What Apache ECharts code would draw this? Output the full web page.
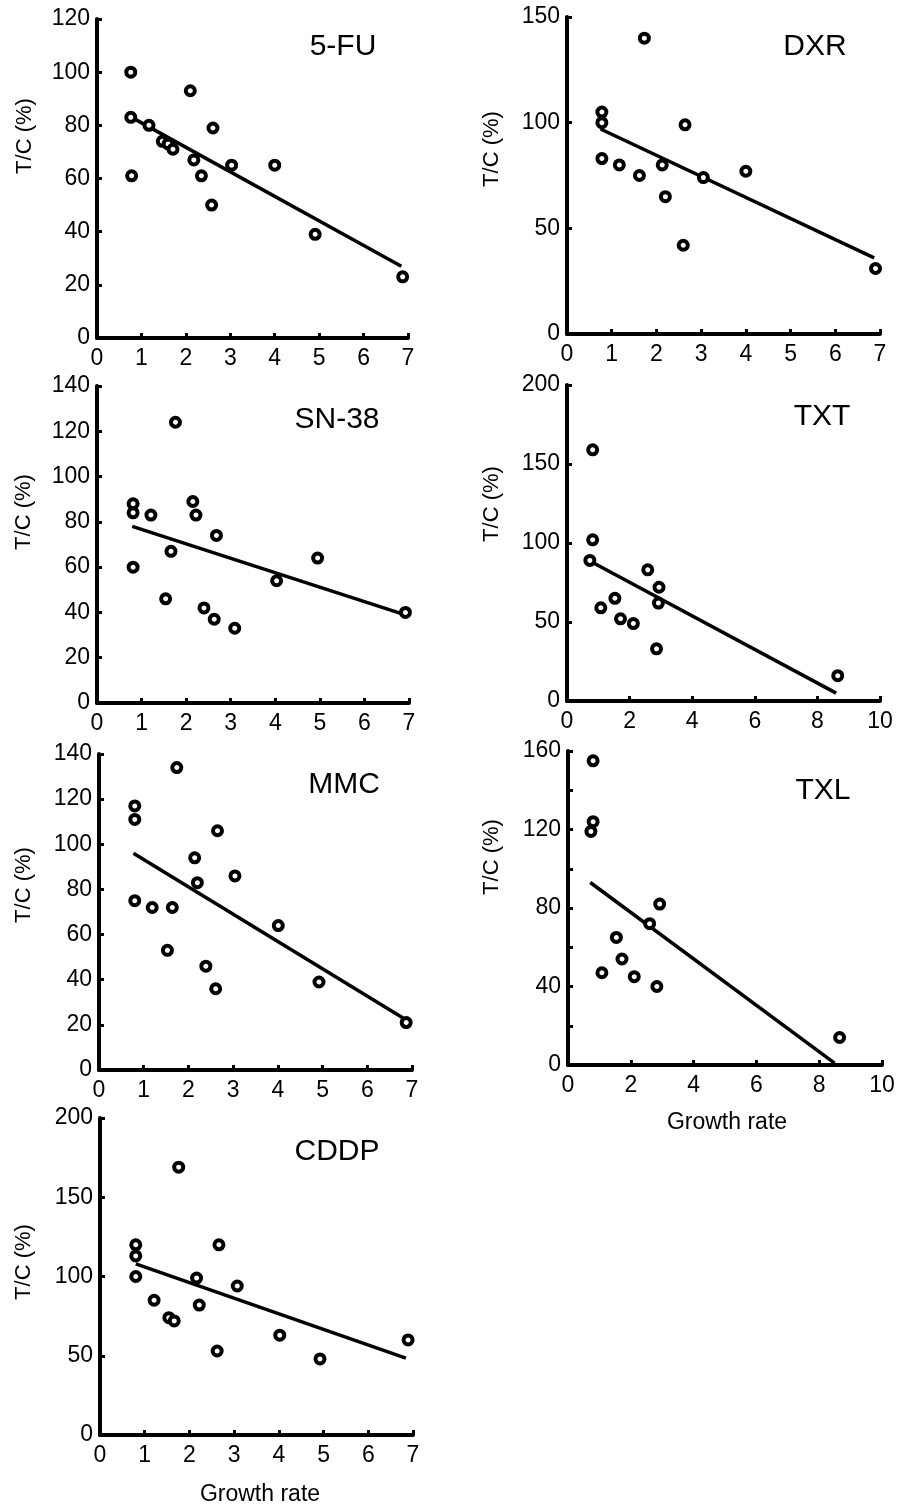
<!DOCTYPE html>
<html>
<head>
<meta charset="utf-8">
<script src="https://cdn.jsdelivr.net/npm/echarts@6/dist/echarts.min.js"></script>
<style>
html,body{margin:0;padding:0;background:#fff;}
#c{width:901px;height:1507px;}
</style>
</head>
<body>
<div id="c"></div>
<script>
// ---- Data ----
const drugNames = ['5-FU', 'DXR', 'SN-38', 'TXT', 'MMC', 'TXL', 'CDDP'];

const fuX = [0.76, 0.76, 0.78, 1.17, 1.47, 1.60, 1.71, 2.10, 2.18, 2.35, 2.61, 2.58, 3.03, 4.00, 4.91, 6.88];
const fuY = [100, 83, 61, 80, 74, 73, 71, 93, 67, 61, 79, 50, 65, 65, 39, 23];
const fuLine = [[0.78, 83], [6.85, 27]];

const dxrX = [1.73, 0.78, 0.78, 0.78, 1.17, 1.62, 2.13, 2.20, 2.64, 2.60, 3.05, 4.00, 6.90];
const dxrY = [140, 105, 100, 83, 80, 75, 80, 65, 99, 42, 74, 77, 31];
const dxrLine = [[0.75, 97], [6.87, 36]];

const snX = [1.76, 0.81, 0.81, 0.81, 1.21, 1.66, 1.54, 2.15, 2.22, 2.68, 2.40, 2.63, 3.09, 4.03, 4.95, 6.92];
const snY = [124, 88, 84, 60, 83, 67, 46, 89, 83, 74, 42, 37, 33, 54, 64, 40];
const snLine = [[0.79, 78], [6.9, 39]];

const txtX = [0.82, 0.82, 0.73, 1.08, 1.53, 1.71, 2.12, 2.58, 2.94, 2.92, 2.86, 8.65];
const txtY = [159, 102, 89, 59, 65, 52, 49, 83, 72, 62, 33, 16];
const txtLine = [[0.79, 88], [8.6, 5]];

const mmcX = [1.74, 0.80, 0.80, 0.80, 1.19, 1.64, 1.53, 2.65, 2.14, 2.20, 3.04, 2.39, 2.61, 4.01, 4.92, 6.87];
const mmcY = [134, 117, 111, 75, 72, 72, 53, 106, 94, 83, 86, 46, 36, 64, 39, 21];
const mmcLine = [[0.77, 96], [6.8, 23]];

const txlX = [0.80, 0.80, 0.73, 1.08, 1.54, 1.72, 2.11, 2.60, 2.92, 2.83, 8.65];
const txlY = [155, 124, 119, 47, 65, 54, 45, 72, 82, 40, 14];
const txlLine = [[0.71, 93], [8.49, 1]];

const cddpX = [1.76, 0.80, 0.80, 0.80, 1.21, 1.54, 1.66, 2.16, 2.22, 2.66, 2.62, 3.07, 4.02, 4.92, 6.89];
const cddpY = [169, 120, 113, 100, 85, 74, 72, 99, 82, 120, 53, 94, 63, 48, 60];
const cddpLine = [[0.8, 108], [6.84, 48.5]];

// axis ranges: [xMax, xInterval, yMax, yInterval]
const axisRanges = [
  [7, 1, 120, 20],
  [7, 1, 150, 50],
  [7, 1, 140, 20],
  [10, 2, 200, 50],
  [7, 1, 140, 20],
  [10, 2, 160, 40],
  [7, 1, 200, 50]
];
const yTitle = 'T/C (%)';
const xTitle = 'Growth rate';

// ---- Layout ----
const grids = [
  {left: 97, top: 19, width: 311, height: 319},
  {left: 567, top: 17, width: 313, height: 317},
  {left: 97, top: 386, width: 312, height: 317},
  {left: 567, top: 385, width: 313, height: 316},
  {left: 99, top: 754, width: 313, height: 316},
  {left: 568, top: 751, width: 314, height: 314},
  {left: 100, top: 1118, width: 313, height: 317}
];
const titlePos = [[343, 47], [815, 47], [337, 420], [822, 417], [344, 785], [823, 791], [337, 1152]];
const yTitlePos = [[25, 136], [492, 149], [24, 512], [492, 504], [24, 885], [492, 857], [24, 1262]];
const xTitlePos = [[727, 1123], [260, 1495]];

const xs = [fuX, dxrX, snX, txtX, mmcX, txlX, cddpX];
const ys = [fuY, dxrY, snY, txtY, mmcY, txlY, cddpY];
const lines = [fuLine, dxrLine, snLine, txtLine, mmcLine, txlLine, cddpLine];

const FONT = '"Liberation Sans", Arial, sans-serif';
const axisCommon = {
  axisLine: {show: true, onZero: false, lineStyle: {color: '#000', width: 4}},
  axisTick: {show: true, inside: true, length: 5, lineStyle: {color: '#000', width: 3}},
  axisLabel: {color: '#000', fontSize: 23, fontFamily: FONT},
  splitLine: {show: false}
};

const xAxes = [], yAxes = [], series = [], graphics = [];
for (let i = 0; i < 7; i++) {
  const r = axisRanges[i];
  xAxes.push(Object.assign({}, axisCommon, {
    type: 'value', gridIndex: i, min: 0, max: r[0], interval: r[1],
    axisLabel: Object.assign({}, axisCommon.axisLabel, {margin: 9})
  }));
  const y = Object.assign({}, axisCommon, {
    type: 'value', gridIndex: i, min: 0, max: r[2], interval: r[3],
    axisLabel: Object.assign({}, axisCommon.axisLabel, {margin: 7})
  });
  if (i === 5) {
    y.minorTick = {show: true, splitNumber: 2, length: 5, lineStyle: {color: '#000', width: 3}};
  }
  yAxes.push(y);
  series.push({
    type: 'line', xAxisIndex: i, yAxisIndex: i, data: lines[i],
    symbol: 'none', lineStyle: {color: '#000', width: 3.5}, z: 2, silent: true
  });
  series.push({
    type: 'scatter', xAxisIndex: i, yAxisIndex: i,
    data: xs[i].map((v, k) => [v, ys[i][k]]),
    symbol: 'circle', symbolSize: 9,
    itemStyle: {color: '#fff', borderColor: '#000', borderWidth: 4, opacity: 1},
    z: 3
  });
  graphics.push({
    type: 'text', x: titlePos[i][0], y: titlePos[i][1],
    style: {text: drugNames[i], fontSize: 30, fontFamily: FONT, fill: '#000', textAlign: 'center', textVerticalAlign: 'middle'}
  });
  graphics.push({
    type: 'text', x: yTitlePos[i][0], y: yTitlePos[i][1], rotation: Math.PI / 2,
    style: {text: yTitle, fontSize: 22, fontFamily: FONT, fill: '#000', textAlign: 'center', textVerticalAlign: 'middle'}
  });
}
xTitlePos.forEach(p => graphics.push({
  type: 'text', x: p[0], y: p[1],
  style: {text: xTitle, fontSize: 23, fontFamily: FONT, fill: '#000', textAlign: 'center', textVerticalAlign: 'middle'}
}));

const chart = echarts.init(document.getElementById('c'), null, {renderer: 'canvas'});
chart.setOption({
  animation: false,
  backgroundColor: '#fff',
  grid: grids.map(g => Object.assign({containLabel: false}, g)),
  xAxis: xAxes,
  yAxis: yAxes,
  series: series,
  graphic: graphics
});
</script>
</body>
</html>
